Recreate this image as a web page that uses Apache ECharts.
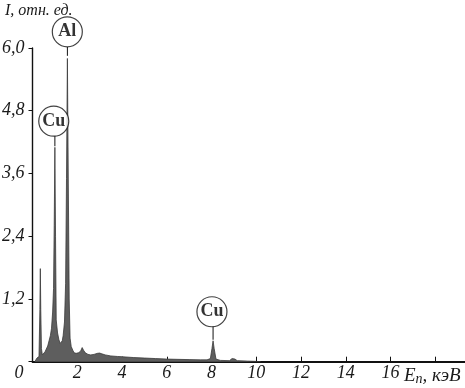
<!DOCTYPE html>
<html>
<head>
<meta charset="utf-8">
<script src="https://cdn.jsdelivr.net/npm/echarts@6/dist/echarts.min.js"></script>
<style>
html,body{margin:0;padding:0;background:#fff;}
#chart{width:465px;height:388px;}
</style>
</head>
<body>
<div id="chart"></div>
<script>
// Spectrum: energy (keV) and intensity (rel. units)
var energy = [0.10,0.15,0.20,0.25,0.29,0.33,0.35,0.37,0.40,0.44,0.50,0.56,0.62,0.68,0.74,0.80,0.85,0.90,0.94,0.97,1.00,1.03,1.06,1.12,1.18,1.24,1.29,1.33,1.37,1.43,1.48,1.52,1.56,1.60,1.64,1.68,1.73,1.80,1.86,1.95,2.05,2.15,2.22,2.28,2.36,2.48,2.60,2.75,2.90,3.00,3.10,3.25,3.50,3.80,4.00,4.50,5.00,5.50,6.00,6.50,7.00,7.50,7.80,7.95,8.02,8.07,8.12,8.20,8.40,8.80,8.92,8.98,9.05,9.15,9.60,10.0,10.2];
var intensity = [0,0.03,0.07,0.06,0.10,1.00,1.78,1.00,0.25,0.13,0.15,0.19,0.22,0.30,0.40,0.50,0.64,0.95,1.40,2.60,4.10,2.40,0.80,0.55,0.42,0.35,0.32,0.40,0.50,0.76,1.50,3.50,5.80,3.40,1.20,0.45,0.29,0.22,0.17,0.16,0.17,0.20,0.27,0.22,0.17,0.14,0.13,0.14,0.16,0.165,0.15,0.13,0.11,0.10,0.095,0.08,0.07,0.06,0.05,0.045,0.04,0.035,0.035,0.06,0.25,0.40,0.25,0.05,0.025,0.02,0.06,0.08,0.05,0.02,0.012,0.006,0];

// Peak annotations
var peakNames = ['Al','Cu','Cu'];
var peakEnergy = [1.56,1.00,8.07];
var peakTop = [5.85,4.12,0.42];

// Axis ticks
var xTicks = [0,2,4,6,8,10,12,14,16,18];
var yTickLabels = {'1.2':'1,2','2.4':'2,4','3.6':'3,6','4.8':'4,8','6':'6,0'};
var xAxisName = 'E';
var xAxisSub = 'п';
var xAxisUnit = ', кэВ';
var yAxisName = 'I, отн. ед.';

var FONT = 'Liberation Serif';
var spectrum = energy.map(function(e,i){return [e,intensity[i]];});

// circle label positions (data coords) and leader lines
var circlePos = [[1.556,6.31],[0.95,4.60],[8.02,0.955]];
var leaderTop = [6.02,4.32,0.68];

var series = [{
  type:'line',
  data:spectrum,
  symbol:'none',
  lineStyle:{color:'#3a3a3a',width:0.8},
  areaStyle:{color:'#5e5e5e',opacity:1},
  z:2
}];
peakNames.forEach(function(n,i){
  series.push({
    type:'line',
    data:[[peakEnergy[i],leaderTop[i]],[peakEnergy[i],peakTop[i]]],
    symbol:'none',clip:false,
    lineStyle:{color:'#111',width:1},
    z:3
  });
});
series.push({
  type:'scatter',
  clip:false,
  data:peakNames.map(function(n,i){return {name:n,value:circlePos[i]};}),
  symbol:'circle',
  symbolSize:30,
  itemStyle:{color:'#fff',borderColor:'#111',borderWidth:1.2},
  label:{show:true,position:'inside',formatter:'{b}',color:'#000',
    fontFamily:FONT,fontWeight:'bold',fontSize:18},
  z:5
});

var chart = echarts.init(document.getElementById('chart'),null,{renderer:'canvas'});
chart.setOption({
  animation:false,
  backgroundColor:'#fff',
  title:{text:yAxisName,left:0,top:-2,
    textStyle:{fontFamily:FONT,fontStyle:'italic',fontWeight:'normal',fontSize:16,color:'#1a1a1a'}},
  grid:{left:32.5,top:48,width:447.5,bottom:26.3,containLabel:false,outerBoundsMode:'none'},
  xAxis:{
    type:'value',min:0,max:20,interval:2,
    axisLine:{lineStyle:{color:'#111',width:1.8}},
    axisTick:{inside:true,length:5,lineStyle:{color:'#111',width:1}},
    splitLine:{show:false},
    axisLabel:{
      margin:3,color:'#1a1a1a',fontFamily:FONT,fontStyle:'italic',fontSize:18,
      formatter:function(v){
        if(v===0) return '{z|0}';
        if(v===18) return '{n|'+xAxisName+'}{s|'+xAxisSub+'}{u|'+xAxisUnit+'}';
        if(xTicks.indexOf(v)>=0) return String(v);
        return '';
      },
      rich:{
        z:{fontFamily:FONT,fontStyle:'italic',fontSize:18,color:'#1a1a1a',padding:[0,27,0,0]},
        n:{fontFamily:FONT,fontStyle:'italic',fontSize:19,color:'#1a1a1a'},
        s:{fontFamily:FONT,fontStyle:'italic',fontSize:14,color:'#1a1a1a',padding:[8,0,0,0]},
        u:{fontFamily:FONT,fontStyle:'italic',fontSize:19,color:'#1a1a1a',padding:[0,6,0,0]}
      }
    }
  },
  yAxis:{
    type:'value',min:0,max:6,interval:1.2,
    axisLine:{show:true,lineStyle:{color:'#111',width:1.4}},
    axisTick:{show:true,inside:false,length:4,lineStyle:{color:'#111',width:1}},
    splitLine:{show:false},
    axisLabel:{
      margin:8,color:'#1a1a1a',fontFamily:FONT,fontStyle:'italic',fontSize:18,
      formatter:function(v){
        var k = String(Math.round(v*10)/10);
        return yTickLabels[k] || '';
      }
    }
  },
  series:series
});
</script>
</body>
</html>
